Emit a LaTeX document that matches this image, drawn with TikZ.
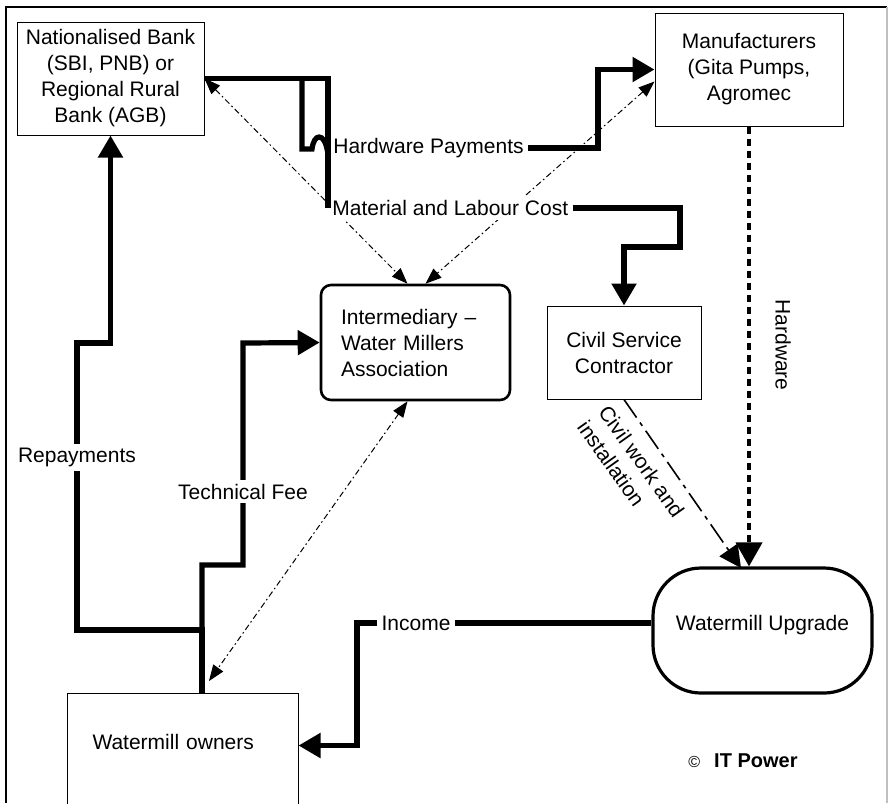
\documentclass[tikz,border=0pt]{standalone}
\usepackage{fontspec}
\setmainfont{Liberation Sans}
\usetikzlibrary{arrows.meta}

\begin{document}
\begin{tikzpicture}[x=0.5pt,y=-0.5pt,
    font=\fontsize{10.5}{13}\selectfont,
    box/.style={draw,line width=0.5pt,align=center,inner sep=2pt},
    lbl/.style={fill=white,inner sep=2pt},
    money/.style={line width=2.6pt},
    bigtip/.style={-{Triangle[length=11pt,width=12pt]}},
    link/.style={line width=0.5pt,dash pattern=on 3pt off 1.5pt on 0.8pt off 1.5pt,
      {Triangle[length=8pt,width=6pt]}-{Triangle[length=8pt,width=6pt]}},
    goods/.style={line width=2pt,dash pattern=on 3.5pt off 2.5pt,
      -{Triangle[length=12pt,width=13pt]}},
    works/.style={line width=0.8pt,dash pattern=on 11pt off 3pt on 2pt off 3pt,
      -{Triangle[length=11pt,width=11pt]}},
    raised/.style={text height=7.5pt,text depth=8pt}]
  \useasboundingbox (0,0) rectangle (892,811);
  % frame
  \draw[line width=0.6pt] (6,803) -- (6,7) -- (887,7);
  \draw[line width=0.6pt,black!25] (887,7) -- (887,803);

  % boxes
  \node[box,minimum width=93.5pt,minimum height=56.5pt] (bank) at (110.5,78.5)
    {Nationalised Bank\\(SBI, PNB) or\\Regional Rural\\Bank (AGB)};
  \node[box,minimum width=94pt,minimum height=56.5pt] (manu) at (749,69.5)
    {Manufacturers\\(Gita Pumps,\\Agromec};
  \node[draw,line width=1.3pt,rounded corners=5pt,minimum width=94.5pt,
    minimum height=57.5pt,text width=74.5pt,inner xsep=10pt,align=left] (inter) at (415.5,342.5)
    {Intermediary --\\Water Millers\\Association};
  \node[box,minimum width=77pt,minimum height=46.5pt] (civil) at (624,352.5)
    {Civil Service\\Contractor};
  \node[draw,line width=1.6pt,rounded corners=24pt,minimum width=109.5pt,
    minimum height=62.5pt,raised] (upgrade) at (762.5,630.5) {Watermill Upgrade};
  \begin{scope}
    \clip (0,0) rectangle (892,803);
    \node[box,minimum width=115.5pt,minimum height=56.5pt,raised,align=left,
      text width=90pt,inner xsep=12.5pt] (owners) at (182.5,749.5)
      {Watermill owners};
  \end{scope}

  % flows of services
  \draw[link] (bank.east) -- ([xshift=-4pt]inter.north);
  \draw[link] ([yshift=-6pt]manu.west) -- ([xshift=5pt]inter.north);
  \coordinate (ownertip) at (209,681);
  \draw[link] ([xshift=-4pt]inter.south) -- (ownertip);
  \draw[goods] (manu.south) -- (manu.south |- upgrade.north);
  \node[rotate=-90] (hwlbl) at (783,345) {Hardware};
  \coordinate (civtip) at (741,568);
  \draw[works] (civil.south) -- (civtip);
  \node[rotate=-54.6,align=left,inner sep=0pt] (worklbl) at (631,469)
    {Civil work and\\installation};

  % labels of payments
  \node[lbl,anchor=west] (hwpay) at (329,148) {Hardware Payments};
  \node[lbl,anchor=west] (matl) at (328,208) {Material and Labour Cost};
  \node[lbl] (income) at (416,623) {Income};

  % payments
  \coordinate (hwsplit) at (302,78.5);
  \coordinate (fork) at (202,630);
  \coordinate (feebend) at (202,565);
  \draw[money] (bank.east) -| (matl.west);
  \draw[money] (hwsplit) -- (302,149) -- (312,149)
    .. controls (314,133) and (324,133) .. (327,149) -- (hwpay.west);
  \draw[money,bigtip] (hwpay.east) -- (598,148) |- (manu.west);
  \draw[money,bigtip] (matl.east) -| (680,247) -| (civil.north);
  \draw[money] (upgrade.west |- income.east) -- (income.east);
  \draw[money,bigtip] (income.west) -- (357,623) |- ([yshift=2pt]owners.east);
  \draw[money,bigtip] (owners.north -| fork) -- (fork) -- (77,630)
    -- node[lbl,pos=0.6] {Repayments} (77,343) -| (bank.south);
  \draw[money,bigtip] (fork) -- (feebend) -- (243,565)
    -- node[lbl,pos=0.33] {Technical Fee} (243,343) -- (inter.west);

  \node[anchor=west,inner sep=0pt] (copy) at (688,761)
    {\fontsize{8}{10}\selectfont ©\hspace{7pt}\fontsize{10}{12}\selectfont\textbf{IT Power}};
\end{tikzpicture}
\end{document}
